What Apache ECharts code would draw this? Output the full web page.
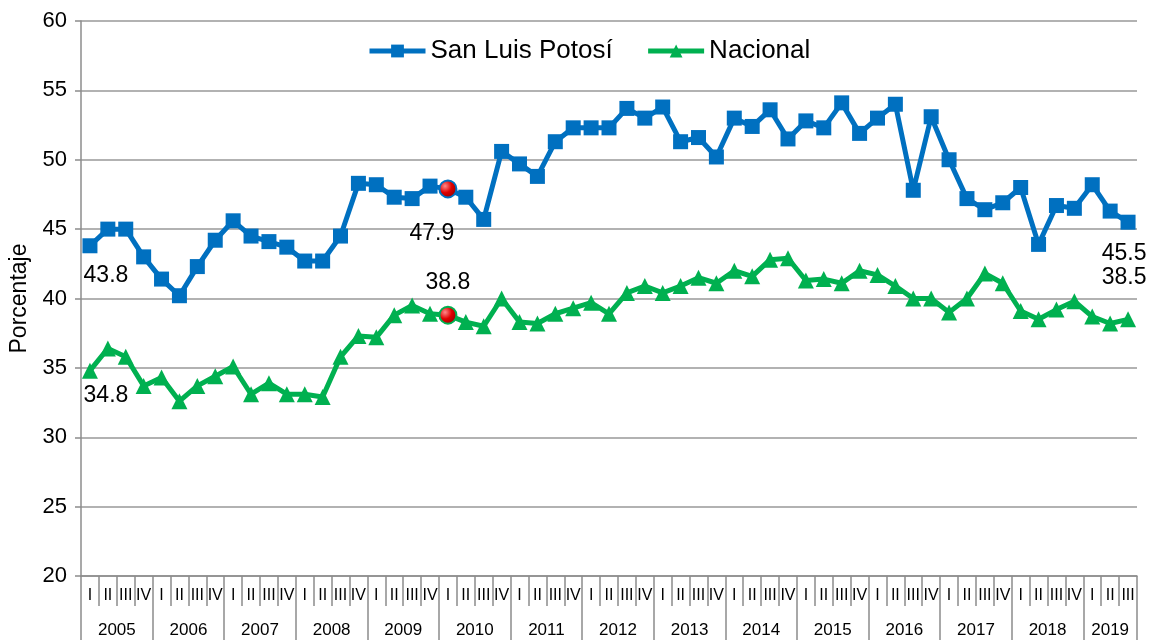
<!DOCTYPE html>
<html>
<head>
<meta charset="utf-8">
<title>San Luis Potosí vs Nacional</title>
<script src="https://cdn.jsdelivr.net/npm/echarts@6/dist/echarts.min.js"></script>
<style>
  html, body { margin: 0; padding: 0; background: #fff; }
  #main { width: 1156px; height: 640px; }
</style>
</head>
<body>
<div id="main"></div>
<script>
var years = ['2005','2006','2007','2008','2009','2010','2011','2012','2013','2014','2015','2016','2017','2018','2019'];
var quarterNames = ['I','II','III','IV'];
var lastYearQuarters = 3;

// San Luis Potosí
var slp = [43.8,45.0,45.0,43.0,41.4,40.2,42.3,44.2,45.6,44.5,44.1,43.7,42.7,42.7,44.5,48.3,
           48.2,47.3,47.2,48.1,47.9,47.3,45.7,50.6,49.7,48.8,51.3,52.3,52.3,52.3,53.7,53.0,
           53.8,51.3,51.6,50.2,53.0,52.4,53.6,51.5,52.8,52.3,54.1,51.9,53.0,54.0,47.8,53.1,
           50.0,47.2,46.4,46.9,48.0,43.9,46.7,46.5,48.2,46.3,45.5];
// Nacional
var nac = [34.8,36.4,35.8,33.7,34.3,32.6,33.7,34.4,35.1,33.1,33.9,33.1,33.1,32.9,35.8,37.3,
           37.2,38.8,39.5,38.9,38.8,38.3,38.0,40.0,38.3,38.2,38.9,39.3,39.7,38.9,40.4,40.9,
           40.4,40.9,41.5,41.1,42.0,41.6,42.8,42.9,41.3,41.4,41.1,42.0,41.7,40.9,40.0,40.0,
           39.0,40.0,41.8,41.1,39.1,38.5,39.2,39.8,38.7,38.2,38.5];

var FONT = 'Liberation Sans, Arial, sans-serif';

// categorias trimestrales
var quarterCats = [];
var yearCats = [];
for (var y = 0; y < years.length; y++) {
	var n = (y == years.length - 1) ? lastYearQuarters : 4;
	for (var q = 0; q < n; q++) {
		quarterCats.push(quarterNames[q]);
		yearCats.push(years[y]);
	}
}
var lastIdx = quarterCats.length - 1;
var midIdx = 20; // 2010 I

var redBall = new echarts.graphic.RadialGradient(0.35, 0.35, 0.7, [
	{offset: 0, color: '#ff8a8a'},
	{offset: 0.5, color: '#e00000'},
	{offset: 1, color: '#900000'}
]);

function lbl(text, dx, dy) {
	return {
		show: true,
		position: 'inside',
		offset: [dx, dy],
		formatter: text,
		color: '#000',
		fontSize: 23,
		fontFamily: FONT
	};
}

function buildData(values, color, labels) {
	var data = [];
	for (var i = 0; i < values.length; i++) {
		var item = {value: values[i]};
		if (labels[i]) item.label = labels[i];
		if (i == midIdx) {
			item.symbol = 'circle';
			item.symbolSize = 17;
			item.itemStyle = {color: redBall, borderColor: color, borderWidth: 2};
		}
		data.push(item);
	}
	return data;
}

var slpLabels = {};
slpLabels[0] = lbl('43.8', 16, 30);
slpLabels[midIdx] = lbl('47.9', -16, 45);
slpLabels[lastIdx] = lbl('45.5', -4, 31);

var nacLabels = {};
nacLabels[0] = lbl('34.8', 16, 25);
nacLabels[midIdx] = lbl('38.8', 0, -32);
nacLabels[lastIdx] = lbl('38.5', -4, -42);

var myChart = echarts.init(document.getElementById('main'), null, {renderer: 'canvas'});
var option = {
	backgroundColor: '#fff',
	animation: false,
	textStyle: {fontFamily: FONT},
	grid: {left: 81, right: 19, top: 21, bottom: 64, containLabel: false, outerBoundsMode: 'none'},
	legend: {
		left: 362,
		top: 33,
		itemWidth: 56,
		itemHeight: 16,
		itemGap: 33,
		lineStyle: {width: 5},
		textStyle: {fontSize: 26, color: '#000', fontFamily: FONT},
		data: ['San Luis Potosí', 'Nacional']
	},
	xAxis: [
		{
			type: 'category',
			data: quarterCats,
			boundaryGap: true,
			axisLine: {show: true, lineStyle: {color: '#8c8c8c', width: 1.5}},
			axisTick: {show: true, interval: 0, length: 30, lineStyle: {color: '#8c8c8c', width: 1.5}},
			axisLabel: {interval: 0, margin: 12, fontSize: 16, color: '#000', fontFamily: FONT, hideOverlap: false},
			splitLine: {show: false}
		},
		{
			type: 'category',
			data: yearCats,
			position: 'bottom',
			boundaryGap: true,
			axisLine: {show: false},
			axisTick: {
				show: true,
				length: 64,
				interval: function (i) { return i % 4 == 0; },
				lineStyle: {color: '#8c8c8c', width: 1.5}
			},
			axisLabel: {
				margin: 46,
				fontSize: 17,
				color: '#000',
				fontFamily: FONT,
				hideOverlap: false,
				interval: function (i) { return i % 4 == 1; },
				formatter: function (value, i) {
					if (i + 2 > lastIdx) return '{c|' + value + '}';
					return '{s|' + value + '}';
				},
				rich: {
					s: {fontSize: 17, fontFamily: FONT, color: '#000', padding: [0, 0, 0, 18]},
					c: {fontSize: 17, fontFamily: FONT, color: '#000'}
				}
			},
			splitLine: {show: false}
		}
	],
	yAxis: {
		type: 'value',
		min: 20,
		max: 60,
		interval: 5,
		name: 'Porcentaje',
		nameLocation: 'middle',
		nameGap: 49,
		nameTextStyle: {fontSize: 23, color: '#000', fontFamily: FONT},
		axisLine: {show: true, lineStyle: {color: '#8c8c8c', width: 1.5}},
		axisTick: {show: true, length: 6, lineStyle: {color: '#8c8c8c', width: 1.5}},
		axisLabel: {fontSize: 22, color: '#000', margin: 14, fontFamily: FONT},
		splitLine: {show: true, lineStyle: {color: '#999', width: 1.5}}
	},
	series: [
		{
			name: 'San Luis Potosí',
			type: 'line',
			xAxisIndex: 0,
			data: buildData(slp, '#0070C0', slpLabels),
			symbol: 'rect',
			symbolSize: 15,
			color: '#0070C0',
			lineStyle: {width: 5, color: '#0070C0'},
			itemStyle: {color: '#0070C0'},
			z: 3
		},
		{
			name: 'Nacional',
			type: 'line',
			xAxisIndex: 0,
			data: buildData(nac, '#00B050', nacLabels),
			symbol: 'triangle',
			symbolSize: 16,
			color: '#00B050',
			lineStyle: {width: 5, color: '#00B050'},
			itemStyle: {color: '#00B050'},
			z: 2
		}
	]
};
// dibujar
myChart.setOption(option);
</script>
</body>
</html>
